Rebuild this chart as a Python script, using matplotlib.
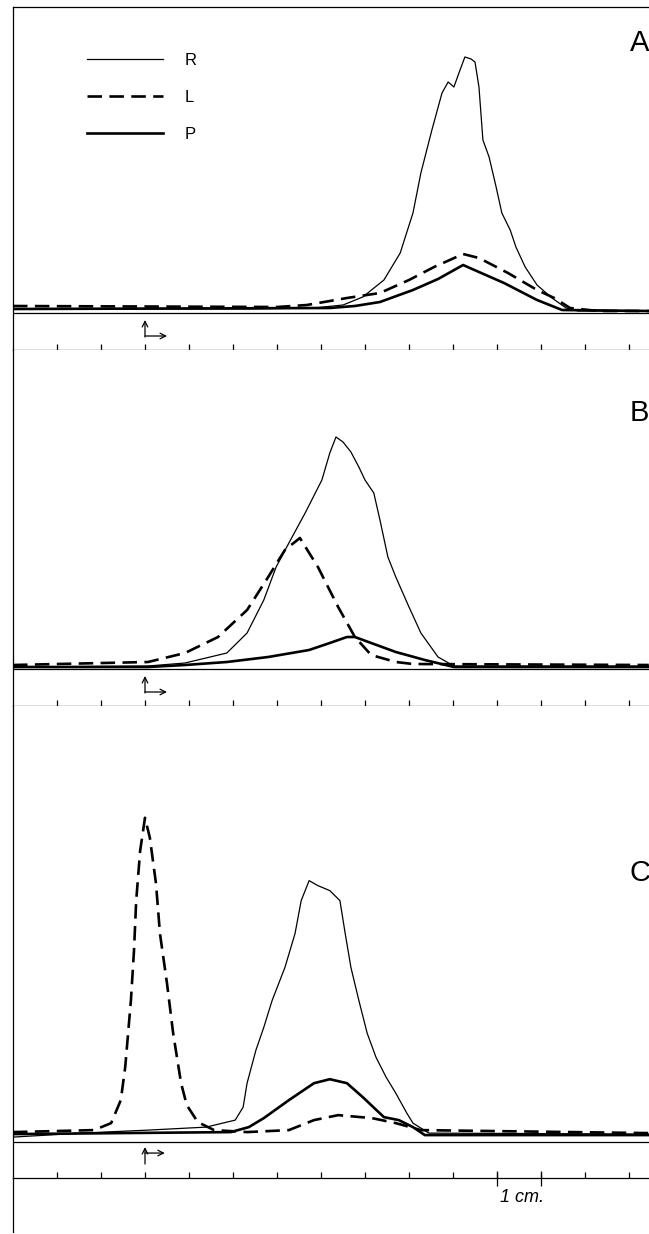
import matplotlib
matplotlib.use("Agg")
import matplotlib.pyplot as plt
from matplotlib.lines import Line2D

plt.rcParams['font.family'] = ['Liberation Sans', 'DejaVu Sans']

# x in cm from the left edge of the trace, y = pen height above baseline (arbitrary units)
# --- panel A
a_r_x = [0, 5.36, 6.84, 7.50, 7.95, 8.43, 8.80, 9.09, 9.27, 9.52, 9.75, 9.89, 10.02, 10.16,
         10.27, 10.41, 10.50, 10.59, 10.68, 10.82, 10.98, 11.11, 11.30, 11.43, 11.64, 11.91,
         12.25, 12.57, 12.84, 14.45]
a_r_y = [4, 4, 5, 8, 16, 33, 60, 100, 140, 183, 220, 231, 226, 243,
         256, 254, 251, 226, 173, 156, 126, 100, 83, 66, 46, 28,
         15, 5, 2, 2]
a_l_x = [0, 6.0, 6.68, 7.59, 8.34, 9.00, 9.57, 10.23, 10.59, 11.25, 11.91, 12.30, 12.66, 13.3, 14.45]
a_l_y = [7, 6, 8, 15, 20, 33, 46, 59, 55, 40, 23, 15, 5, 2, 2]
a_p_x = [0, 7.2, 7.77, 8.34, 9.09, 9.66, 10.23, 10.59, 11.16, 11.91, 12.48, 14.45]
a_p_y = [4, 5, 7, 11, 23, 34, 48, 41, 30, 13, 3, 2]

# --- panel B
b_r_x = [0, 3.07, 3.91, 4.86, 5.32, 5.70, 5.98, 6.27, 6.64, 7.02, 7.20, 7.34, 7.50, 7.68,
         7.86, 8.00, 8.20, 8.34, 8.52, 8.70, 9.00, 9.27, 9.66, 10.02, 14.45]
b_r_y = [2, 3, 6, 16, 36, 69, 102, 126, 156, 189, 216, 232, 227, 217,
         202, 189, 176, 149, 112, 92, 62, 36, 12, 3, 3]
b_l_x = [0, 3.07, 3.91, 4.66, 5.32, 5.80, 6.18, 6.52, 6.93, 7.39, 7.77, 8.14, 8.70, 9.09, 14.45]
b_l_y = [4, 7, 16, 32, 59, 92, 119, 131, 102, 62, 32, 14, 7, 5, 4]
b_p_x = [0, 3.07, 3.91, 4.86, 5.80, 6.73, 7.20, 7.59, 7.77, 8.14, 8.70, 9.36, 10.02, 14.45]
b_p_y = [2, 2, 4, 7, 12, 19, 26, 32, 32, 26, 17, 9, 2, 2]

# --- panel C
c_r_x = [0, 1.57, 3.07, 4.39, 4.86, 5.05, 5.23, 5.32, 5.52, 5.70, 5.89, 6.18, 6.41, 6.55,
         6.73, 6.93, 7.20, 7.43, 7.55, 7.68, 7.86, 8.05, 8.25, 8.48, 8.70, 8.95, 9.09,
         9.45, 14.45]
c_r_y = [5, 9, 12, 15, 20, 22, 35, 59, 92, 115, 142, 175, 209, 242,
         262, 257, 252, 242, 209, 175, 142, 109, 85, 65, 49, 29, 19,
         9, 8]
c_l_x = [0, 1.84, 2.23, 2.45, 2.55, 2.68, 2.75, 2.80, 2.89, 3.00, 3.11, 3.25, 3.34, 3.50,
         3.64, 3.82, 3.95, 4.20, 4.57, 5.32, 6.27, 6.84, 7.39, 8.16, 8.70, 9.27, 14.45]
c_l_y = [10, 12, 19, 42, 75, 142, 192, 242, 292, 325, 305, 259, 209, 159,
         109, 59, 37, 20, 12, 10, 12, 22, 27, 24, 19, 12, 9]
c_p_x = [0, 4.95, 5.36, 5.70, 6.27, 6.84, 7.20, 7.59, 7.95, 8.43, 8.77, 9.09, 9.36, 14.45]
c_p_y = [8, 10, 15, 24, 42, 59, 63, 59, 45, 25, 22, 15, 7, 7]

panels = [
    ("A", a_r_x, a_r_y, a_l_x, a_l_y, a_p_x, a_p_y),
    ("B", b_r_x, b_r_y, b_l_x, b_l_y, b_p_x, b_p_y),
    ("C", c_r_x, c_r_y, c_l_x, c_l_y, c_p_x, c_p_y),
]
tick_cm = list(range(1, 15))
scale_bar = [11, 12]
start_mark = 3.0

# layout in pixels (figure 649 x 1234 at 100 dpi)
W, H = 649, 1234
left_px = 13
tops = [7, 350, 706]
bottoms = [350, 706, 1178]
ylims = [(-37, 306), (-37, 319), (-36, 437)]
label_pos = [(0.970, 0.895), (0.970, 0.823), (0.970, 0.647)]
xmax = (W - left_px) / 44.0

fig = plt.figure(figsize=(W / 100, H / 100), dpi=100)
dash = (0, (5.5, 2.8))

axes = []
for i, (name, rx, ry, lx, ly, px, py) in enumerate(panels):
    ax = fig.add_axes([left_px / W, 1 - bottoms[i] / H,
                       (W - left_px) / W, (bottoms[i] - tops[i]) / H])
    axes.append(ax)
    ax.plot(rx, ry, color='black', lw=0.9, label='R', solid_joinstyle='round')
    ax.plot(lx, ly, color='black', lw=1.9, linestyle=dash, label='L')
    ax.plot(px, py, color='black', lw=1.9, label='P')
    ax.axhline(0, color='black', lw=0.9)
    ax.set_xlim(0, xmax)
    ax.set_ylim(*ylims[i])
    ax.set_xticks(tick_cm)
    ax.set_yticks([])
    ax.tick_params(axis='x', direction='in', length=4.5, width=0.9, labelbottom=False)
    ax.spines['right'].set_visible(False)
    ax.spines['top'].set_visible(i == 0)
    for s in ('left', 'bottom', 'top'):
        ax.spines[s].set_linewidth(0.9)
    ax.text(label_pos[i][0], label_pos[i][1], name, transform=ax.transAxes,
            fontsize=21, ha='left', va='center')

    # start marker: up arrow plus rightward arrow below the baseline
    if i < 2:
        ax.annotate('', xy=(start_mark, -7), xytext=(start_mark, -24),
                    arrowprops=dict(arrowstyle='->', lw=0.9, shrinkA=0, shrinkB=0))
        ax.annotate('', xy=(start_mark + 0.5, -23), xytext=(start_mark, -23),
                    arrowprops=dict(arrowstyle='->', lw=0.9, shrinkA=0, shrinkB=0))
    else:
        ax.annotate('', xy=(start_mark, -5), xytext=(start_mark, -22),
                    arrowprops=dict(arrowstyle='->', lw=0.9, shrinkA=0, shrinkB=0))
        ax.annotate('', xy=(start_mark + 0.45, -11), xytext=(start_mark, -11),
                    arrowprops=dict(arrowstyle='->', lw=0.9, shrinkA=0, shrinkB=0))

# legend in panel A
axes[0].legend(loc='upper left', bbox_to_anchor=(0.116, 0.867), frameon=False,
               fontsize=12, handlelength=4.6, handletextpad=1.3, labelspacing=1.32,
               borderpad=0, borderaxespad=0)

# 1 cm scale bar on panel C
axc = axes[2]
axc.vlines(scale_bar, -44, -29, color='black', lw=0.9, clip_on=False)
axc.text(scale_bar[0] + 0.06, -56, '1 cm.', fontsize=13, style='italic',
         ha='left', va='center', clip_on=False)

# left frame line continues below the last trace
fig.add_artist(Line2D([left_px / W, left_px / W], [1 - 1232 / H, 1 - 1178 / H],
                      color='black', lw=0.9))

fig.savefig('out.png', dpi=100)
